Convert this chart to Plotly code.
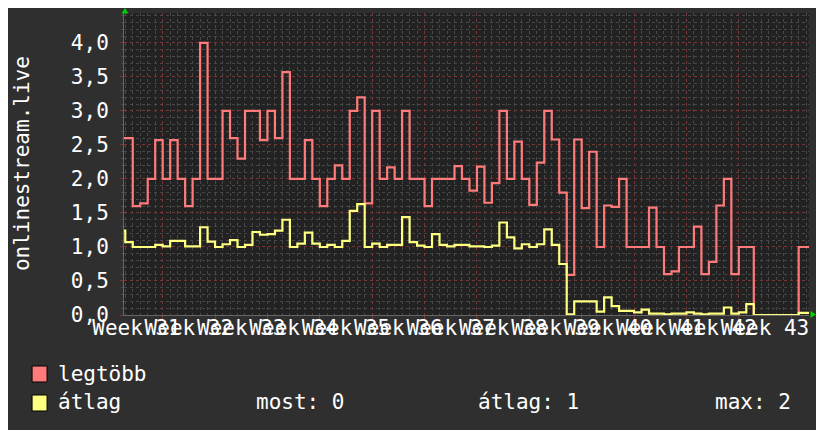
import plotly.graph_objects as go

# ---------------- data ----------------
first_day = -6  # day index of first sample interval (day 0 = start of week boundary)
legtobb = [2.6, 2.6, 1.6, 1.64, 2.0, 2.57, 2.0, 2.57, 2.0, 1.6, 2.0, 4.0, 2.0, 2.0, 3.0, 2.6,
           2.3, 3.0, 3.0, 2.57, 3.0, 2.6, 3.57, 2.0, 2.0, 2.57, 2.0, 1.6, 2.0, 2.2, 2.0, 3.0,
           3.2, 1.64, 3.0, 2.0, 2.17, 2.0, 3.0, 2.0, 2.0, 1.6, 2.0, 2.0, 2.0, 2.19, 2.0, 1.83,
           2.18, 1.65, 1.94, 3.0, 2.0, 2.55, 2.0, 1.62, 2.24, 3.0, 2.58, 1.8, 0.59, 2.58, 1.57,
           2.4, 1.0, 1.61, 1.59, 2.0, 1.0, 1.0, 1.0, 1.58, 1.0, 0.6, 0.64, 1.0, 1.0, 1.3, 0.6,
           0.78, 1.61, 2.0, 0.6, 1.0, 1.0, 0, 0, 0, 0, 0, 0, 1.0, 1.0]
atlag = [1.24, 1.07, 1.0, 1.0, 1.0, 1.03, 1.01, 1.09, 1.09, 1.01, 1.01, 1.29, 1.08, 1.0, 1.04,
         1.1, 1.0, 1.03, 1.22, 1.18, 1.19, 1.24, 1.4, 1.0, 1.05, 1.21, 1.05, 1.0, 1.03, 1.0,
         1.09, 1.53, 1.63, 1.0, 1.05, 1.0, 1.03, 1.03, 1.44, 1.07, 1.02, 1.0, 1.19, 1.03, 1.01,
         1.03, 1.03, 1.01, 1.01, 1.0, 1.02, 1.36, 1.14, 0.98, 1.04, 1.0, 1.04, 1.26, 1.03, 0.75,
         0.01, 0.2, 0.2, 0.2, 0.05, 0.26, 0.13, 0.06, 0.06, 0.04, 0.08, 0.02, 0.02, 0.01, 0.02,
         0.02, 0.04, 0.02, 0.01, 0.02, 0.02, 0.11, 0.02, 0.04, 0.16, 0, 0, 0, 0, 0, 0, 0.03, 0.03]
week_numbers = list(range(31, 44))
week_labels = ["Week %d" % w for w in week_numbers]
y_tick_values = [0.0, 0.5, 1.0, 1.5, 2.0, 2.5, 3.0, 3.5, 4.0]
y_tick_labels = [("%.1f" % v).replace(".", ",") for v in y_tick_values]
stat_most, stat_atlag, stat_max = 0, 1, 2

# ---------------- styling ----------------
FONT = "DejaVu Sans Mono"
FS = 21
RED = "#ff7b7b"
YEL = "#ffff80"
GRID_MAJOR = "#7a3636"
GRID_MINOR = "#474747"
PAPER = "#2f2f2f"
PLOT = "#222222"

OFF = 8  # page offset of the figure div inside the browser window
W, H = 824 - OFF, 430 - OFF
# plot-area edges in window pixels
L, R, T, B = 124, 809.5, 13, 315
X_RANGE = [-5.17, 86.38]
Y_RANGE = [0, 4.44]


def px_x(p):
    return (p - L) / (R - L)


def px_y(p):
    return (B - p) / (B - T)


def steps(vals):
    xs = [first_day + i for i in range(len(vals) + 1)]
    ys = list(vals) + [vals[-1]]
    return xs, ys


fig = go.Figure()
xr, yr = steps(legtobb)
fig.add_trace(go.Scatter(x=xr, y=yr, mode="lines", line=dict(color=RED, width=2.2, shape="hv"),
                         name="legtöbb", hoverinfo="skip", xaxis="x", yaxis="y"))
xa, ya = steps(atlag)
fig.add_trace(go.Scatter(x=xa, y=ya, mode="lines", line=dict(color=YEL, width=2.2, shape="hv"),
                         name="átlag", hoverinfo="skip", xaxis="x2", yaxis="y"))

label_pos = [-3.5 + 7 * k for k in range(len(week_labels))]
week_bounds = [7 * k for k in range(13)]

shapes = []
annotations = []

# legend squares
shapes.append(dict(type="rect", xref="paper", yref="paper", x0=px_x(32), x1=px_x(47),
                   y0=px_y(366), y1=px_y(382), fillcolor=RED, line=dict(color="black", width=1)))
shapes.append(dict(type="rect", xref="paper", yref="paper", x0=px_x(32), x1=px_x(47),
                   y0=px_y(395), y1=px_y(411), fillcolor=YEL, line=dict(color="black", width=1)))

# green arrows
shapes.append(dict(type="path", xref="paper", yref="paper",
                   path="M %f,%f L %f,%f L %f,%f Z" % (px_x(121.5), px_y(13.5), px_x(128.5), px_y(13.5),
                                                       px_x(125), px_y(8)),
                   fillcolor="#00d000", line=dict(width=0)))
shapes.append(dict(type="path", xref="paper", yref="paper",
                   path="M %f,%f L %f,%f L %f,%f Z" % (px_x(811), px_y(311), px_x(811), px_y(318),
                                                       px_x(816.5), px_y(314.5)),
                   fillcolor="#00d000", line=dict(width=0)))


def text(px, py, s, angle=0, xanchor="left"):
    annotations.append(dict(xref="paper", yref="paper", x=px_x(px), y=px_y(py), text=s,
                            showarrow=False, xanchor=xanchor, yanchor="middle", textangle=angle,
                            font=dict(family=FONT, size=FS, color="white")))


text(56, 374, "legtöbb")
text(56, 402, "átlag")
text(254, 402, "most: %d" % stat_most)
text(476, 402, "átlag: %d" % stat_atlag)
text(713, 402, "max: %d" % stat_max)
text(OFF, 164, "onlinestream.live", angle=-90, xanchor="left")

fig.update_layout(
    width=W, height=H,
    margin=dict(l=L - OFF, r=824 - R, t=T - OFF, b=430 - B, pad=0, autoexpand=False),
    paper_bgcolor=PAPER, plot_bgcolor=PLOT,
    showlegend=False,
    font=dict(family=FONT, size=FS, color="white"),
    xaxis=dict(range=X_RANGE, tickmode="array", tickvals=label_pos, ticktext=week_labels,
               tickangle=0, automargin=False, ticklabelstandoff=-6,
               showgrid=False, zeroline=False, ticks="", showline=True, linecolor="#666666",
               linewidth=1, tickfont=dict(family=FONT, size=FS, color="white"), fixedrange=True),
    xaxis2=dict(range=X_RANGE, overlaying="x", anchor="y", side="bottom", tickmode="array",
                tickvals=week_bounds, showticklabels=False, showgrid=True, gridcolor=GRID_MAJOR,
                griddash="dot", gridwidth=1, zeroline=False, ticks="outside", ticklen=3,
                tickcolor=GRID_MAJOR, automargin=False,
                minor=dict(tick0=0, dtick=1, showgrid=True, gridcolor=GRID_MINOR, griddash="dot",
                           gridwidth=1),
                fixedrange=True),
    yaxis=dict(range=Y_RANGE, tickmode="array", tickvals=y_tick_values, ticktext=y_tick_labels,
               showgrid=True, gridcolor=GRID_MAJOR, griddash="dot", gridwidth=1, zeroline=False,
               showline=True, linecolor="#666666", linewidth=1, ticks="outside", ticklen=3,
               tickcolor=GRID_MAJOR, ticklabelstandoff=7, automargin=False,
               minor=dict(tick0=0, dtick=0.1, showgrid=True, gridcolor=GRID_MINOR, griddash="dot",
                          gridwidth=1, ticks="outside", ticklen=2, tickcolor=GRID_MINOR),
               tickfont=dict(family=FONT, size=FS, color="white"), fixedrange=True),
    shapes=shapes,
    annotations=annotations,
)

fig.write_html("out.html")
